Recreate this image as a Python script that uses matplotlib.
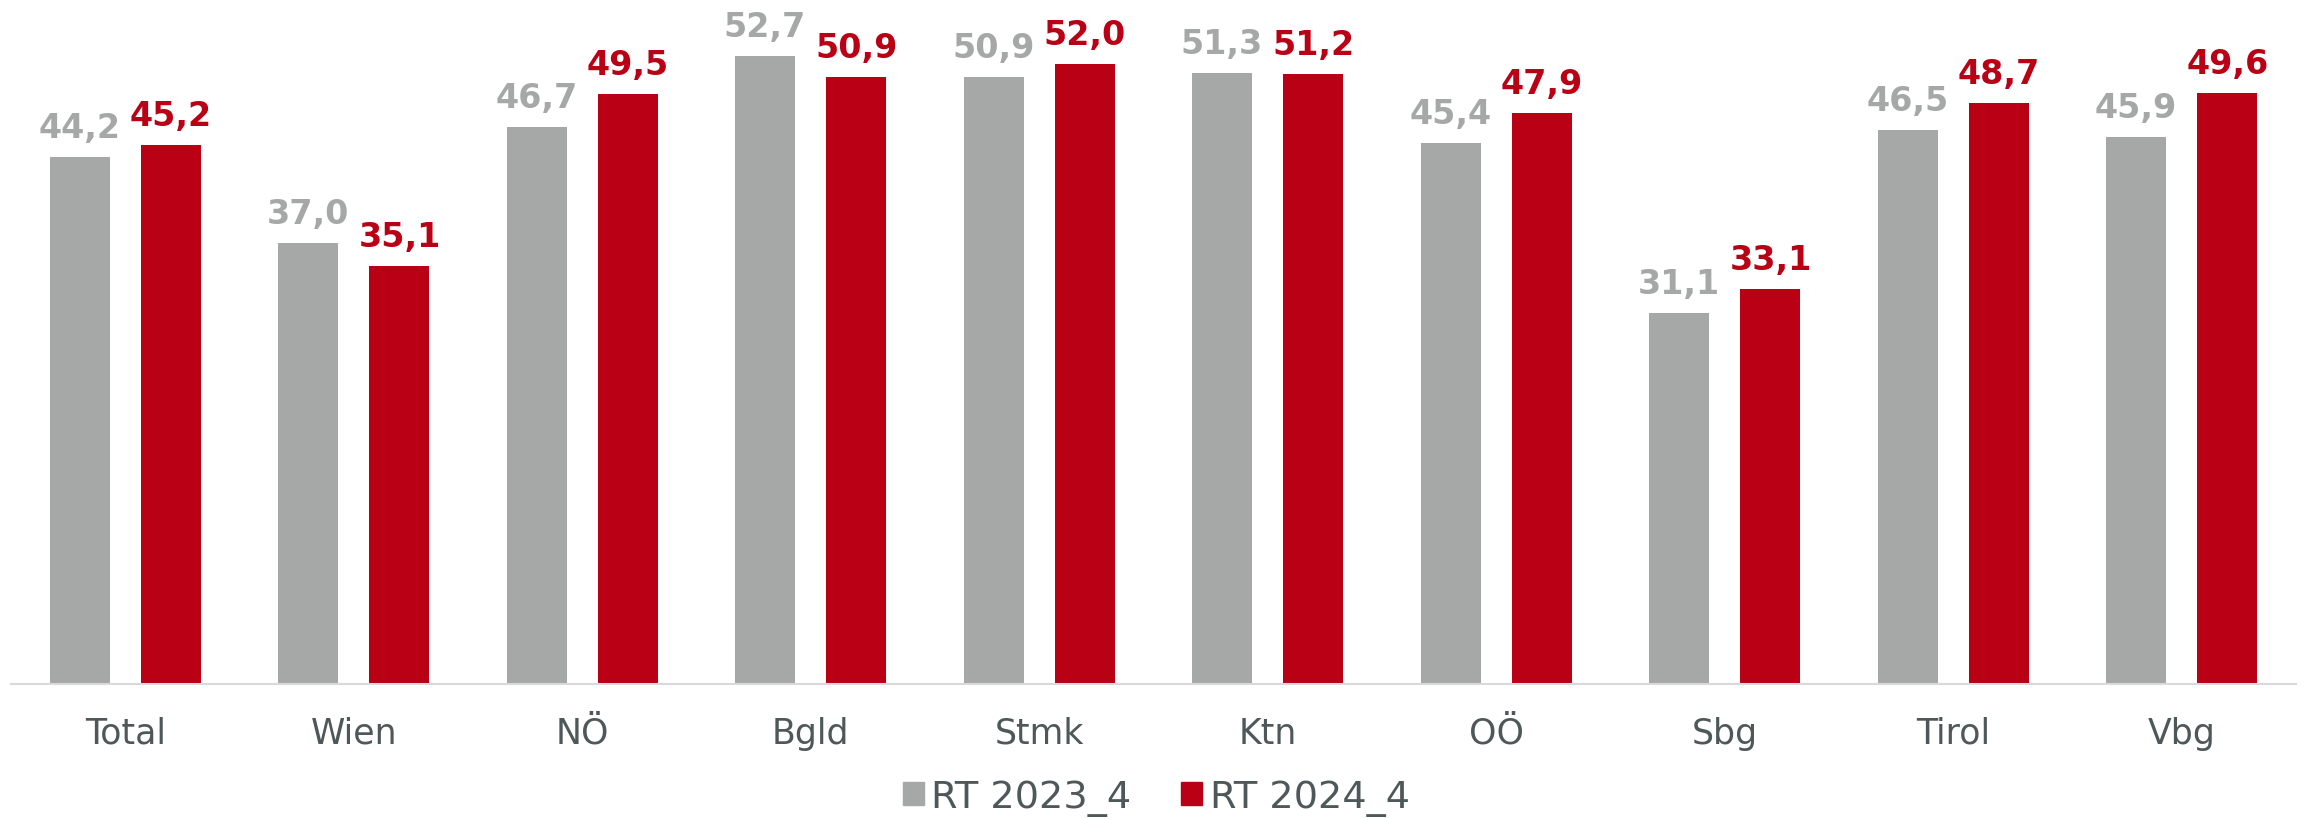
import numpy as np
import matplotlib
matplotlib.use("Agg")
import matplotlib.pyplot as plt
from matplotlib.patches import Patch

regions = ["Total", "Wien", "NÖ", "Bgld", "Stmk", "Ktn", "OÖ", "Sbg", "Tirol", "Vbg"]
rt_2023 = [44.2, 37.0, 46.7, 52.7, 50.9, 51.3, 45.4, 31.1, 46.5, 45.9]
rt_2024 = [45.2, 35.1, 49.5, 50.9, 52.0, 51.2, 47.9, 33.1, 48.7, 49.6]
series_names = ["RT 2023_4", "RT 2024_4"]

grey = "#A5A8A7"
red = "#B90014"
text_col = "#4F5858"

plt.rcParams['font.family'] = ['DejaVu Sans']

fig = plt.figure(figsize=(23.05, 8.2), dpi=100)
ax = fig.add_axes([11 / 2305, 135 / 820, 2285 / 2305, 685 / 820])

x = np.arange(len(regions))
w = 0.263
off = 0.2

ax.bar(x - off, rt_2023, width=w, color=grey)
ax.bar(x + off, rt_2024, width=w, color=red)

def fmt(v):
    return f"{v:.1f}".replace(".", ",")

for xs, vals, col in [(x - off, rt_2023, grey), (x + off, rt_2024, red)]:
    for xi, v in zip(xs, vals):
        ax.annotate(fmt(v), (xi, v), xytext=(0, 14.4), textcoords="offset points",
                    ha="center", va="baseline", fontsize=24, fontweight="bold",
                    color=col, annotation_clip=False)

ax.set_xlim(-0.5, 9.5)
ax.set_ylim(0, 685 / 11.92)
ax.set_yticks([])
ax.set_xticks(x)
ax.set_xticklabels(regions, fontsize=25, color=text_col)
ax.tick_params(axis="x", length=0, pad=23)

for s in ["top", "right", "left"]:
    ax.spines[s].set_visible(False)
ax.spines["bottom"].set_color("#D9D9D9")
ax.spines["bottom"].set_linewidth(1.5)

handles = [Patch(color=grey), Patch(color=red)]
leg = fig.legend(handles, series_names, loc="center", bbox_to_anchor=(0.5016, 0.026),
                 ncol=2, frameon=False, fontsize=27.5, handlelength=0.55, handleheight=0.55,
                 handletextpad=0.2, columnspacing=1.3, borderpad=0)
for t in leg.get_texts():
    t.set_color(text_col)

fig.savefig("out.png", dpi=100)
